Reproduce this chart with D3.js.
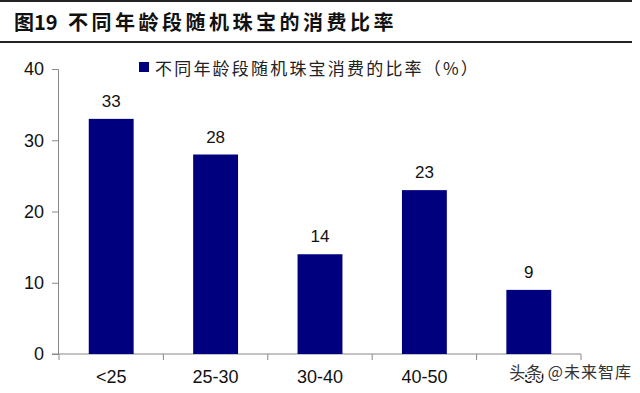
<!DOCTYPE html>
<html>
<head>
<meta charset="utf-8">
<script src="https://cdn.jsdelivr.net/npm/d3@7"></script>
<style>
  body { margin: 0; background: #fff; }
  svg { display: block; }
</style>
</head>
<body>
<svg id="chart" width="640" height="393"></svg>
<script>
const categories = ['<25', '25-30', '30-40', '40-50', '>50'];
const values = [33, 28, 14, 23, 9];
const yTicks = [0, 10, 20, 30, 40];
const titleNum = '图19 ';
const titleText = '不同年龄段随机珠宝的消费比率';
const legendText = '不同年龄段随机珠宝消费的比率（%）';

const svg = d3.select('#chart');
const barColor = '#00007f';
const fontLat = '"Liberation Sans", Arial, sans-serif';
const fontCjk = '"Noto Sans CJK SC", sans-serif';

// title block with rules above and below
svg.append('rect').attr('x', 0).attr('y', 0).attr('width', 632).attr('height', 2).attr('fill', '#222');
svg.append('rect').attr('x', 0).attr('y', 41).attr('width', 632).attr('height', 2).attr('fill', '#222');
const title = svg.append('text')
  .attr('x', 14).attr('y', 30)
  .attr('font-family', fontCjk)
  .attr('font-weight', 'bold')
  .attr('font-size', 20)
  .attr('fill', '#111');
title.append('tspan').text(titleNum);
title.append('tspan').attr('x', 68).attr('letter-spacing', 3.5).text(titleText);

const x = d3.scaleBand()
  .domain(categories)
  .range([59, 581])
  .paddingInner(0.57)
  .paddingOuter(0.285);

const y = d3.scaleLinear()
  .domain([0, 40])
  .range([354, 69]);

// y axis
const yAxis = svg.append('g')
  .attr('transform', 'translate(58,0)')
  .call(d3.axisLeft(y).tickValues(yTicks).tickSize(6).tickPadding(8));
yAxis.select('.domain').attr('stroke', '#888');
yAxis.selectAll('.tick line').attr('stroke', '#888');
yAxis.selectAll('.tick text')
  .attr('font-family', fontLat)
  .attr('font-size', 18)
  .attr('fill', '#111');

// x axis
const xAxis = svg.append('g')
  .attr('transform', 'translate(0,354)');
xAxis.append('line')
  .attr('x1', 52).attr('x2', 581)
  .attr('stroke', '#888');
const half = (x.step() - x.bandwidth()) / 2;
const boundaries = categories.map(c => x(c) - half);
boundaries.push(x(categories[categories.length - 1]) + x.bandwidth() + half);
xAxis.selectAll('line.tk')
  .data(boundaries)
  .join('line')
  .attr('class', 'tk')
  .attr('x1', d => d).attr('x2', d => d)
  .attr('y1', 0).attr('y2', 6)
  .attr('stroke', '#888');
xAxis.selectAll('text')
  .data(categories)
  .join('text')
  .attr('x', d => x(d) + x.bandwidth() / 2)
  .attr('y', 29)
  .attr('text-anchor', 'middle')
  .attr('font-family', fontLat)
  .attr('font-size', 18)
  .attr('fill', '#111')
  .text(d => d);

// bars
svg.selectAll('rect.bar')
  .data(values)
  .join('rect')
  .attr('class', 'bar')
  .attr('x', (d, i) => x(categories[i]))
  .attr('y', d => y(d))
  .attr('width', x.bandwidth())
  .attr('height', d => y(0) - y(d))
  .attr('fill', barColor);

// value labels
svg.selectAll('text.val')
  .data(values)
  .join('text')
  .attr('class', 'val')
  .attr('x', (d, i) => x(categories[i]) + x.bandwidth() / 2)
  .attr('y', d => y(d) - 12)
  .attr('text-anchor', 'middle')
  .attr('font-family', fontLat)
  .attr('font-size', 17)
  .attr('fill', '#111')
  .text(d => d);

// legend
svg.append('rect')
  .attr('x', 139).attr('y', 62)
  .attr('width', 10).attr('height', 10)
  .attr('fill', barColor);
svg.append('text')
  .attr('x', 155).attr('y', 75)
  .attr('font-family', fontCjk)
  .attr('font-size', 17)
  .attr('letter-spacing', 2.2)
  .attr('fill', '#222')
  .text(legendText);

// watermark, drawn over the last category label as in the source image
svg.append('text')
  .attr('x', 632).attr('y', 378)
  .attr('text-anchor', 'end')
  .attr('font-family', fontCjk)
  .attr('font-size', 16)
  .attr('letter-spacing', 1)
  .attr('fill', '#333')
  .attr('stroke', '#fff')
  .attr('stroke-width', 3)
  .attr('paint-order', 'stroke')
  .text('头条 @未来智库');
</script>
</body>
</html>
